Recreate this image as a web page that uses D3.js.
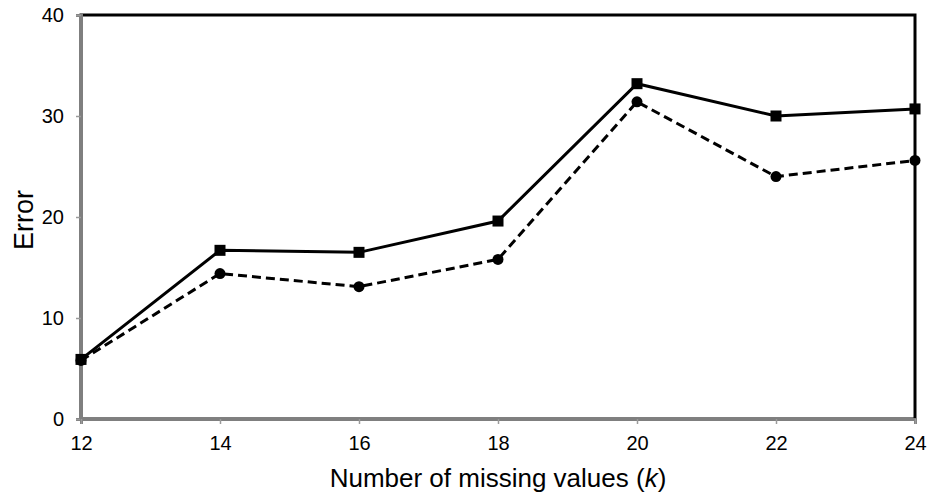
<!DOCTYPE html>
<html>
<head>
<meta charset="utf-8">
<script src="https://cdn.jsdelivr.net/npm/d3@7"></script>
<style>
  body { margin: 0; background: #fff; }
  text { font-family: "Liberation Sans", Arial, sans-serif; }
</style>
</head>
<body>
<div id="chart"></div>
<script>
const width = 927;
const height = 494;

// data
const kValues = [12, 14, 16, 18, 20, 22, 24];
const solidErrors = [5.9, 16.7, 16.5, 19.6, 33.2, 30.0, 30.7];
const dashedErrors = [5.8, 14.4, 13.1, 15.8, 31.4, 24.0, 25.6];
const yTicks = [0, 10, 20, 30, 40];

const margin = {top: 15, right: 12, bottom: 75, left: 81};

var svg = d3.select("#chart")
    .append("svg")
    .attr("width", width)
    .attr("height", height);

let x = d3.scaleLinear()
    .domain([12, 24])
    .range([margin.left, width - margin.right]);

// bottom of plot at y = 419
let y = d3.scaleLinear()
    .domain([0, 40])
    .range([419, margin.top]);

// plot area border (top and right show black)
svg.append("rect")
    .attr("x", x(12))
    .attr("y", y(40))
    .attr("width", x(24) - x(12))
    .attr("height", y(0) - y(40))
    .attr("fill", "none")
    .attr("stroke", "#000")
    .attr("stroke-width", 3);

// left axis
let yAxis = svg.append("g")
    .attr("transform", "translate(" + x(12) + ",0)")
    .call(d3.axisLeft(y).tickValues(yTicks).tickSize(5).tickPadding(12));

// bottom axis
let xAxis = svg.append("g")
    .attr("transform", "translate(0," + y(0) + ")")
    .call(d3.axisBottom(x).tickValues(kValues).tickSize(5).tickPadding(12));

for (let g of [xAxis, yAxis]) {
    g.attr("font-size", 20).attr("font-family", "'Liberation Sans', Arial, sans-serif");
    g.select(".domain").attr("stroke", "#7f7f7f").attr("stroke-width", 3);
    g.selectAll(".tick line").attr("stroke", "#9a9a9a").attr("stroke-width", 1.5);
    g.selectAll(".tick text").attr("fill", "#000");
}

// axis titles
svg.append("text")
    .attr("x", (x(12) + x(24)) / 2)
    .attr("y", 487)
    .attr("text-anchor", "middle")
    .style("font-size", "26px")
    .html('Number of missing values (<tspan font-style="italic">k</tspan>)');

svg.append("text")
    .attr("transform", "translate(33,220)rotate(-90)")
    .attr("text-anchor", "middle")
    .style("font-size", "27px")
    .text("Error");

let line = d3.line()
    .x((d, i) => x(kValues[i]))
    .y(d => y(d));

// dashed series with circles
svg.append("path")
    .datum(dashedErrors)
    .attr("d", line)
    .attr("fill", "none")
    .attr("stroke", "#000")
    .attr("stroke-width", 3)
    .attr("stroke-dasharray", "9,5");

svg.selectAll("circle.dot")
    .data(dashedErrors)
    .enter()
    .append("circle")
    .attr("class", "dot")
    .attr("cx", (d, i) => x(kValues[i]))
    .attr("cy", d => y(d))
    .attr("r", 5.5)
    .attr("fill", "#000");

// solid series with squares
svg.append("path")
    .datum(solidErrors)
    .attr("d", line)
    .attr("fill", "none")
    .attr("stroke", "#000")
    .attr("stroke-width", 3);

svg.selectAll("rect.sq")
    .data(solidErrors)
    .enter()
    .append("rect")
    .attr("class", "sq")
    .attr("x", (d, i) => x(kValues[i]) - 5.5)
    .attr("y", d => y(d) - 5.5)
    .attr("width", 11)
    .attr("height", 11)
    .attr("fill", "#000");
</script>
</body>
</html>
